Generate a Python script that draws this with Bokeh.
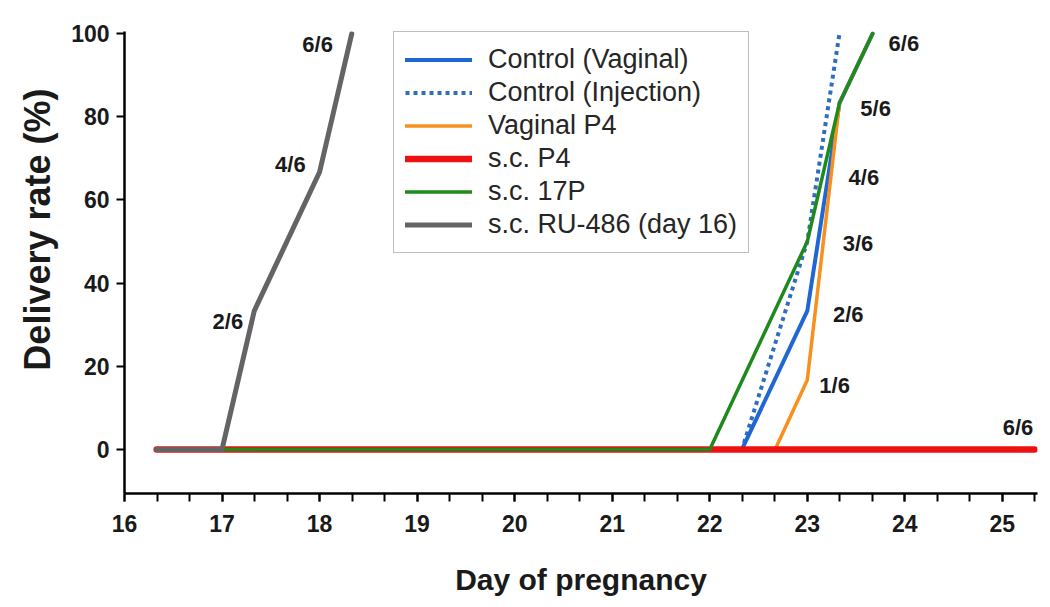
from bokeh.plotting import figure
from bokeh.models import SingleIntervalTicker, Legend, LegendItem, ColumnDataSource, Title
from bokeh.core.properties import value
from bokeh.embed import file_html
from bokeh.resources import INLINE

# ---- data ----
ctrl_vag_day = [16.33, 22.33, 23.0, 23.33, 23.67]
ctrl_vag_rate = [0, 0, 33.3, 83.3, 100]

ctrl_inj_day = [16.33, 22.33, 23.0, 23.33]
ctrl_inj_rate = [0, 0, 50, 100]

vag_p4_day = [16.33, 22.67, 23.0, 23.33, 23.67]
vag_p4_rate = [0, 0, 16.7, 83.3, 100]

sc_p4_day = [16.33, 25.33]
sc_p4_rate = [0, 0]

sc_17p_day = [16.33, 22.0, 23.0, 23.33, 23.67]
sc_17p_rate = [0, 0, 50, 83.3, 100]

ru486_day = [16.33, 17.0, 17.33, 18.0, 18.33]
ru486_rate = [0, 0, 33.3, 66.7, 100]

ann_text = ["2/6", "4/6", "6/6", "1/6", "2/6", "3/6", "4/6", "5/6", "6/6", "6/6"]
ann_day = [17.06, 17.70, 17.98, 23.28, 23.42, 23.52, 23.58, 23.70, 23.99, 25.16]
ann_rate = [30.8, 68.4, 97.3, 15.4, 32.5, 49.6, 65.5, 81.9, 97.6, 5.3]

x_title = "Day of pregnancy"
y_title = "Delivery rate (%)"

FONT = "Liberation Sans"

p = figure(width=1042, height=598, output_backend="svg", toolbar_location=None,
           x_range=(16, 25.36), y_range=(-10.6, 100.5),
           min_border_left=124, min_border_top=31, min_border_right=5, min_border_bottom=105)
p.outline_line_color = None
p.xgrid.grid_line_color = None
p.ygrid.grid_line_color = None
p.background_fill_color = "white"

p.xaxis.ticker = SingleIntervalTicker(interval=1, num_minor_ticks=3)
p.yaxis.ticker = SingleIntervalTicker(interval=20, num_minor_ticks=0)

for ax in (p.xaxis[0], p.yaxis[0]):
    ax.axis_line_width = 2.5
    ax.axis_line_color = "black"
    ax.major_tick_line_width = 2
    ax.minor_tick_line_width = 2
    ax.major_tick_in = 0
    ax.minor_tick_in = 0
    ax.major_tick_out = 8
    ax.minor_tick_out = 8
    ax.major_label_text_font = FONT
    ax.major_label_text_font_style = "bold"
    ax.major_label_text_font_size = "23px"
    ax.major_label_text_color = "#1a1a1a"
    ax.axis_label_text_font = FONT
    ax.axis_label_text_font_style = "bold"
    ax.axis_label_text_color = "#1a1a1a"

p.yaxis.minor_tick_line_color = None
p.xaxis.major_label_standoff = 13
p.yaxis.major_label_standoff = 7
p.xaxis.axis_label = x_title
p.xaxis.axis_label_text_font_size = "30px"
p.xaxis.axis_label_standoff = 28

# y title as a side title, its top end a little below the frame top
ytitle = Title(text=y_title, align="right", offset=57, text_font=FONT,
               text_font_style="bold", text_font_size="36px", text_color="#1a1a1a",
               standoff=22)
p.add_layout(ytitle, "left")

r_inj = p.line(ctrl_inj_day, ctrl_inj_rate, line_color="#2E6DC0", line_width=4,
               line_dash="4 4")
r_vag = p.line(ctrl_vag_day, ctrl_vag_rate, line_color="#1F67D2", line_width=4,
               line_join="round", line_cap="round")
r_p4v = p.line(vag_p4_day, vag_p4_rate, line_color="#F7901E", line_width=3.5,
               line_join="round", line_cap="round")
r_p4 = p.line(sc_p4_day, sc_p4_rate, line_color="#EE1111", line_width=6.5,
              line_join="round", line_cap="round")
r_17p = p.line(sc_17p_day, sc_17p_rate, line_color="#1E8A1E", line_width=3.5,
               line_join="round", line_cap="round")
r_ru = p.line(ru486_day, ru486_rate, line_color="#646464", line_width=5,
              line_join="round", line_cap="round")

src = ColumnDataSource(dict(x=ann_day, y=ann_rate, t=ann_text))
p.text(x="x", y="y", text="t", source=src, text_font=value(FONT),
       text_font_style="bold", text_font_size="22px", text_color="#1a1a1a",
       text_align="center", text_baseline="middle")

legend = Legend(items=[
    LegendItem(label="Control (Vaginal)", renderers=[r_vag]),
    LegendItem(label="Control (Injection)", renderers=[r_inj]),
    LegendItem(label="Vaginal P4", renderers=[r_p4v]),
    LegendItem(label="s.c. P4", renderers=[r_p4]),
    LegendItem(label="s.c. 17P", renderers=[r_17p]),
    LegendItem(label="s.c. RU-486 (day 16)", renderers=[r_ru]),
], location=(269, 240))
legend.label_text_font = FONT
legend.label_text_font_size = "27px"
legend.label_text_color = "#262626"
legend.glyph_width = 67
legend.glyph_height = 33
legend.label_height = 33
legend.label_standoff = 16
legend.spacing = 0
legend.padding = 11
legend.margin = 0
legend.border_line_color = "#7f7f7f"
legend.border_line_width = 1.5
legend.background_fill_alpha = 1
p.add_layout(legend, "center")

open("out.html", "w").write(file_html(p, INLINE))
